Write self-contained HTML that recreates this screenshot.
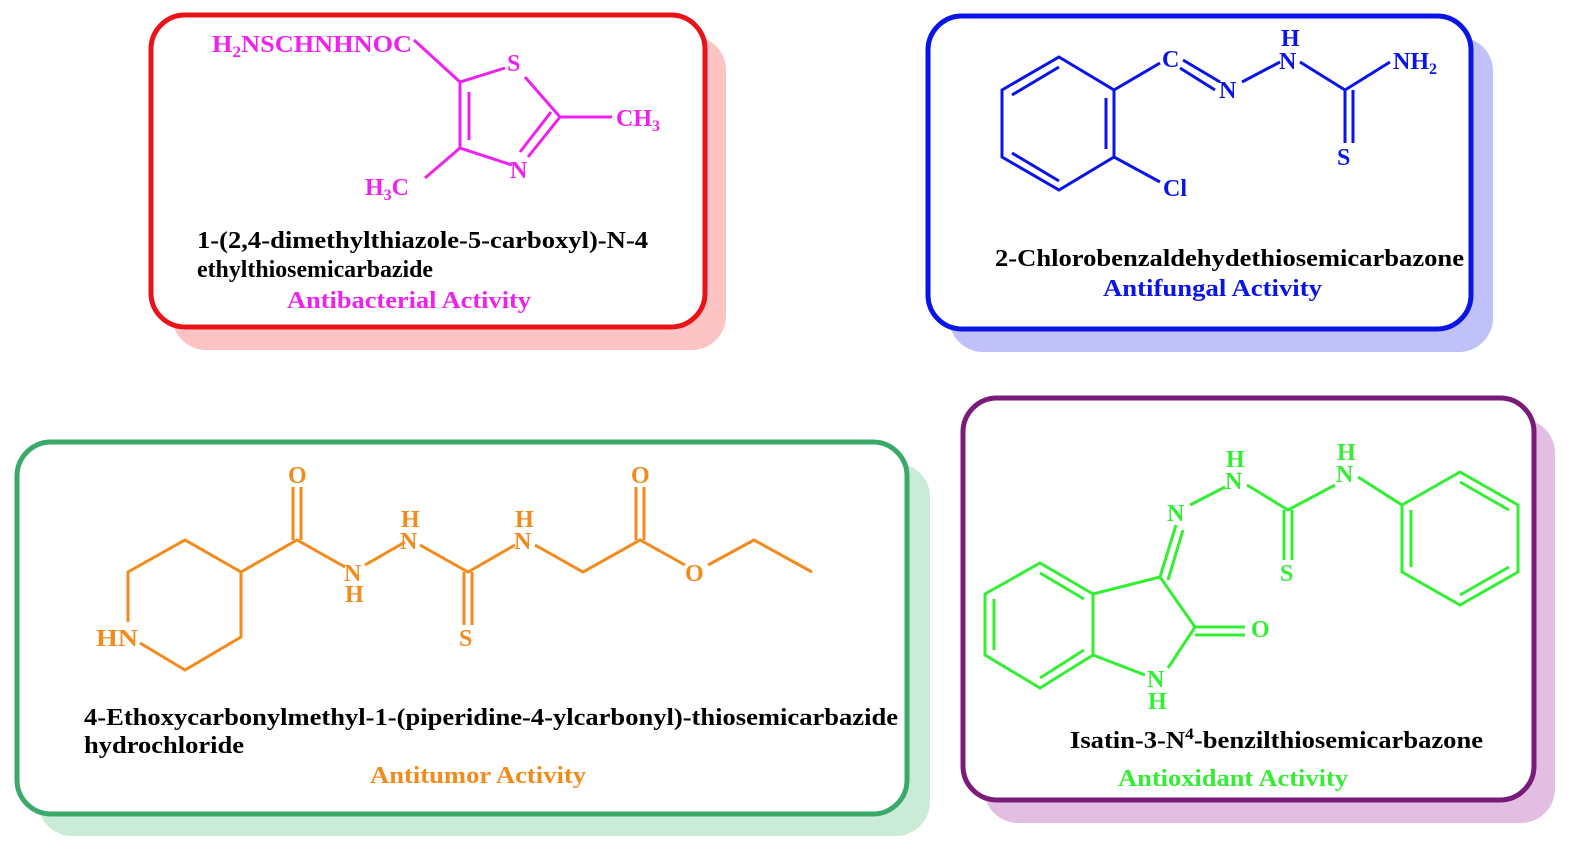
<!DOCTYPE html>
<html><head><meta charset="utf-8"><style>
html,body{margin:0;padding:0;background:#fff;}
svg text{font-family:"Liberation Serif",serif;font-weight:bold;}
</style></head><body>
<svg width="1588" height="853" viewBox="0 0 1588 853" xmlns="http://www.w3.org/2000/svg">
<!-- shadows -->
<rect x="172" y="36" width="554" height="314" rx="34" fill="#fcc4c4"/>
<rect x="949" y="37" width="544" height="315" rx="34" fill="#c0c1f8"/>
<rect x="38" y="463" width="892" height="373" rx="34" fill="#c9ebd8"/>
<rect x="984" y="419" width="571" height="404" rx="34" fill="#e2bfe2"/>
<!-- boxes -->
<rect x="151" y="15" width="554" height="312" rx="34" fill="#fff" stroke="#e8141a" stroke-width="5"/>
<rect x="928" y="16" width="543" height="313" rx="34" fill="#fff" stroke="#0a14e6" stroke-width="5"/>
<rect x="17" y="442" width="890" height="372" rx="34" fill="#fff" stroke="#3aaa6a" stroke-width="5"/>
<rect x="963" y="398" width="571" height="402" rx="34" fill="#fff" stroke="#7a1a7a" stroke-width="5"/>

<!-- Molecule 1 magenta -->
<g stroke="#ee22ee" stroke-width="3" fill="none">
<path d="M414 40 L460 82 L505 68 M525 77 L560 117 L612 117 M560 117 L528 157 M551 112 L520 152 M512 165 L460 148 L460 82 M469 92 L469 140 M460 148 L425 178"/>
</g>
<g fill="#ee22ee" font-size="24">
<text x="212" y="52" textLength="200" lengthAdjust="spacingAndGlyphs">H<tspan font-size="16" dy="5">2</tspan><tspan dy="-5">NSCHNHNOC</tspan></text>
<text x="507" y="71">S</text>
<text x="510" y="178">N</text>
<text x="616" y="126">CH<tspan font-size="16" dy="5">3</tspan></text>
<text x="365" y="195">H<tspan font-size="16" dy="5">3</tspan><tspan dy="-5">C</tspan></text>
<text x="287" y="308" textLength="244" lengthAdjust="spacingAndGlyphs">Antibacterial Activity</text>
</g>
<g fill="#000" font-size="24">
<text x="197" y="248" textLength="451" lengthAdjust="spacingAndGlyphs">1-(2,4-dimethylthiazole-5-carboxyl)-N-4</text>
<text x="197" y="277" textLength="236" lengthAdjust="spacingAndGlyphs">ethylthiosemicarbazide</text>
</g>

<!-- Molecule 2 blue -->
<g stroke="#0a14e6" stroke-width="3" fill="none">
<path d="M1059 57 L1114 90 L1114 157 L1059 190 L1002 157 L1002 90 Z"/>
<path d="M1106 98 L1106 149 M1059 181 L1012 153 M1012 95 L1059 67"/>
<path d="M1114 90 L1160 63 M1183 60 L1220 82 M1180 68 L1215 90 M1242 82 L1280 62 M1300 62 L1345 90 L1390 62 M1345 90 L1345 143 M1353 90 L1353 143 M1114 157 L1160 182"/>
</g>
<g fill="#0a14e6" font-size="24">
<text x="1162" y="67">C</text>
<text x="1219" y="98">N</text>
<text x="1281" y="46">H</text>
<text x="1279" y="69">N</text>
<text x="1393" y="69">NH<tspan font-size="16" dy="5">2</tspan></text>
<text x="1337" y="165">S</text>
<text x="1163" y="196">Cl</text>
<text x="1103" y="296" textLength="219" lengthAdjust="spacingAndGlyphs">Antifungal Activity</text>
</g>
<text x="995" y="266" font-size="24" fill="#000" textLength="469" lengthAdjust="spacingAndGlyphs">2-Chlorobenzaldehydethiosemicarbazone</text>

<!-- Molecule 3 orange -->
<g stroke="#f28a1c" stroke-width="3" fill="none">
<path d="M140 643 L185 670 L241 637 L241 572 L185 540 L128 572 L128 622"/>
<path d="M241 572 L297 540 L345 567 M293 540 L293 487 M301 540 L301 487 M365 565 L405 542 M420 545 L468 572 L515 545 M464 572 L464 625 M472 572 L472 625 M535 545 L583 572 L640 540 L685 565 M636 540 L636 487 M644 540 L644 487 M708 565 L754 540 L812 572"/>
</g>
<g fill="#f28a1c" font-size="24">
<text x="96" y="646" textLength="42" lengthAdjust="spacingAndGlyphs">HN</text>
<text x="288" y="483">O</text>
<text x="631" y="483">O</text>
<text x="344" y="581">N</text>
<text x="345" y="602">H</text>
<text x="401" y="527">H</text>
<text x="400" y="549">N</text>
<text x="459" y="646">S</text>
<text x="515" y="527">H</text>
<text x="514" y="549">N</text>
<text x="685" y="581">O</text>
<text x="370" y="783" textLength="216" lengthAdjust="spacingAndGlyphs">Antitumor Activity</text>
</g>
<g fill="#000" font-size="24">
<text x="84" y="725" textLength="814" lengthAdjust="spacingAndGlyphs">4-Ethoxycarbonylmethyl-1-(piperidine-4-ylcarbonyl)-thiosemicarbazide</text>
<text x="84" y="753" textLength="160" lengthAdjust="spacingAndGlyphs">hydrochloride</text>
</g>

<!-- Molecule 4 green -->
<g stroke="#33ee33" stroke-width="3" fill="none">
<path d="M1040 563 L1093 594 L1093 655 L1040 688 L985 655 L985 594 Z"/>
<path d="M1040 573 L1084 599 M1084 650 L1040 678 M994 650 L994 599"/>
<path d="M1093 594 L1160 577 L1195 627 L1168 668 M1093 655 L1145 675 M1195 627 L1245 627 M1195 635 L1245 635 M1160 577 L1176 525 M1168 580 L1183 530 M1190 505 L1225 487 M1247 485 L1288 510 L1335 485 M1284 510 L1284 560 M1292 510 L1292 560 M1358 477 L1402 505"/>
<path d="M1402 505 L1460 472 L1518 505 L1518 572 L1460 605 L1402 572 Z M1460 482 L1509 510 M1509 567 L1460 595 M1411 567 L1411 510"/>
</g>
<g fill="#33ee33" font-size="24">
<text x="1251" y="637">O</text>
<text x="1147" y="687">N</text>
<text x="1148" y="709">H</text>
<text x="1167" y="521">N</text>
<text x="1226" y="467">H</text>
<text x="1225" y="489">N</text>
<text x="1280" y="581">S</text>
<text x="1337" y="460">H</text>
<text x="1336" y="482">N</text>
<text x="1118" y="786" textLength="230" lengthAdjust="spacingAndGlyphs">Antioxidant Activity</text>
</g>
<text x="1070" y="748" font-size="24" fill="#000" textLength="413" lengthAdjust="spacingAndGlyphs">Isatin-3-N<tspan font-size="16" dy="-9">4</tspan><tspan dy="9">-benzilthiosemicarbazone</tspan></text>
</svg>
</body></html>
